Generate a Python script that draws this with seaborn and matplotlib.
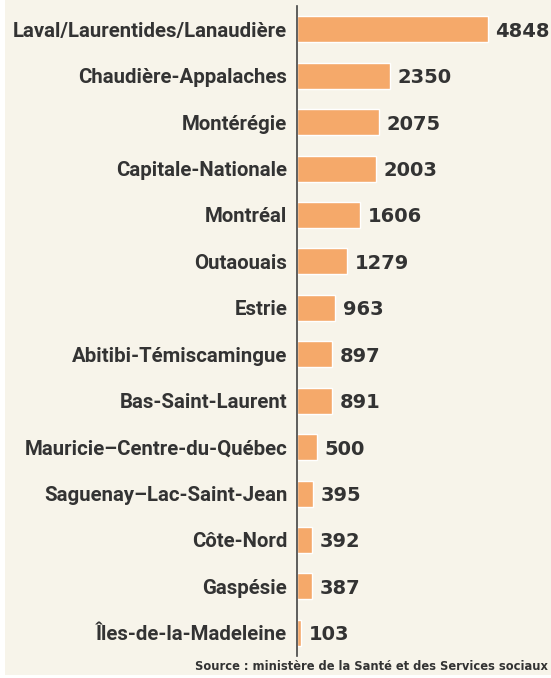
import matplotlib
matplotlib.use("Agg")
import matplotlib.pyplot as plt
import seaborn as sns
import pandas as pd
from matplotlib.patches import Rectangle

# Données
regions = [
    "Laval/Laurentides/Lanaudière",
    "Chaudière-Appalaches",
    "Montérégie",
    "Capitale-Nationale",
    "Montréal",
    "Outaouais",
    "Estrie",
    "Abitibi-Témiscamingue",
    "Bas-Saint-Laurent",
    "Mauricie–Centre-du-Québec",
    "Saguenay–Lac-Saint-Jean",
    "Côte-Nord",
    "Gaspésie",
    "Îles-de-la-Madeleine",
]
valeurs = [4848, 2350, 2075, 2003, 1606, 1279, 963, 897, 891, 500, 395, 392, 387, 103]
source = "Source : ministère de la Santé et des Services sociaux"

df = pd.DataFrame({"region": regions, "valeur": valeurs})

fond = "#f7f4ea"
orange = "#f5a96a"
texte = "#333333"

sns.set_style("white")
plt.rcParams["font.family"] = ["Roboto", "DejaVu Sans"]

fig = plt.figure(figsize=(5.51, 6.78), dpi=100)
fig.patch.set_facecolor(fond)
# bordure blanche à gauche et en bas
fig.patches.append(Rectangle((0, 0), 5 / 551, 1, transform=fig.transFigure,
                             facecolor="white", edgecolor="none", zorder=-1))
fig.patches.append(Rectangle((0, 0), 1, 3 / 678, transform=fig.transFigure,
                             facecolor="white", edgecolor="none", zorder=-1))

ax = fig.add_axes([297 / 551, 22 / 678, 254 / 551, 650 / 678])
ax.set_facecolor(fond)

sns.barplot(data=df, x="valeur", y="region", color=orange, width=0.56,
            saturation=1, ax=ax)

ax.set_xlim(0, 6450)
ax.set_ylim(13.5, -0.5)
ax.set_xlabel("")
ax.set_ylabel("")
ax.set_xticks([])
for s in ["top", "right", "bottom"]:
    ax.spines[s].set_visible(False)
ax.spines["left"].set_color("#444444")
ax.spines["left"].set_linewidth(1.2)

ax.tick_params(axis="y", length=0, pad=7)
for lab in ax.get_yticklabels():
    lab.set_fontsize(14.7)
    lab.set_fontweight("bold")
    lab.set_color(texte)

for i, v in enumerate(valeurs):
    ax.annotate(f"{v}", (v, i), xytext=(5.5, 0), textcoords="offset points",
                ha="left", va="center_baseline", fontsize=14,
                fontweight="bold", family="DejaVu Sans", color=texte)

fig.text(548 / 551, 1 - 667 / 678, source, ha="right", va="center",
         fontsize=8.3, fontweight="bold", family="DejaVu Sans", color=texte)

fig.savefig("out.png", dpi=100, facecolor=fig.get_facecolor())
